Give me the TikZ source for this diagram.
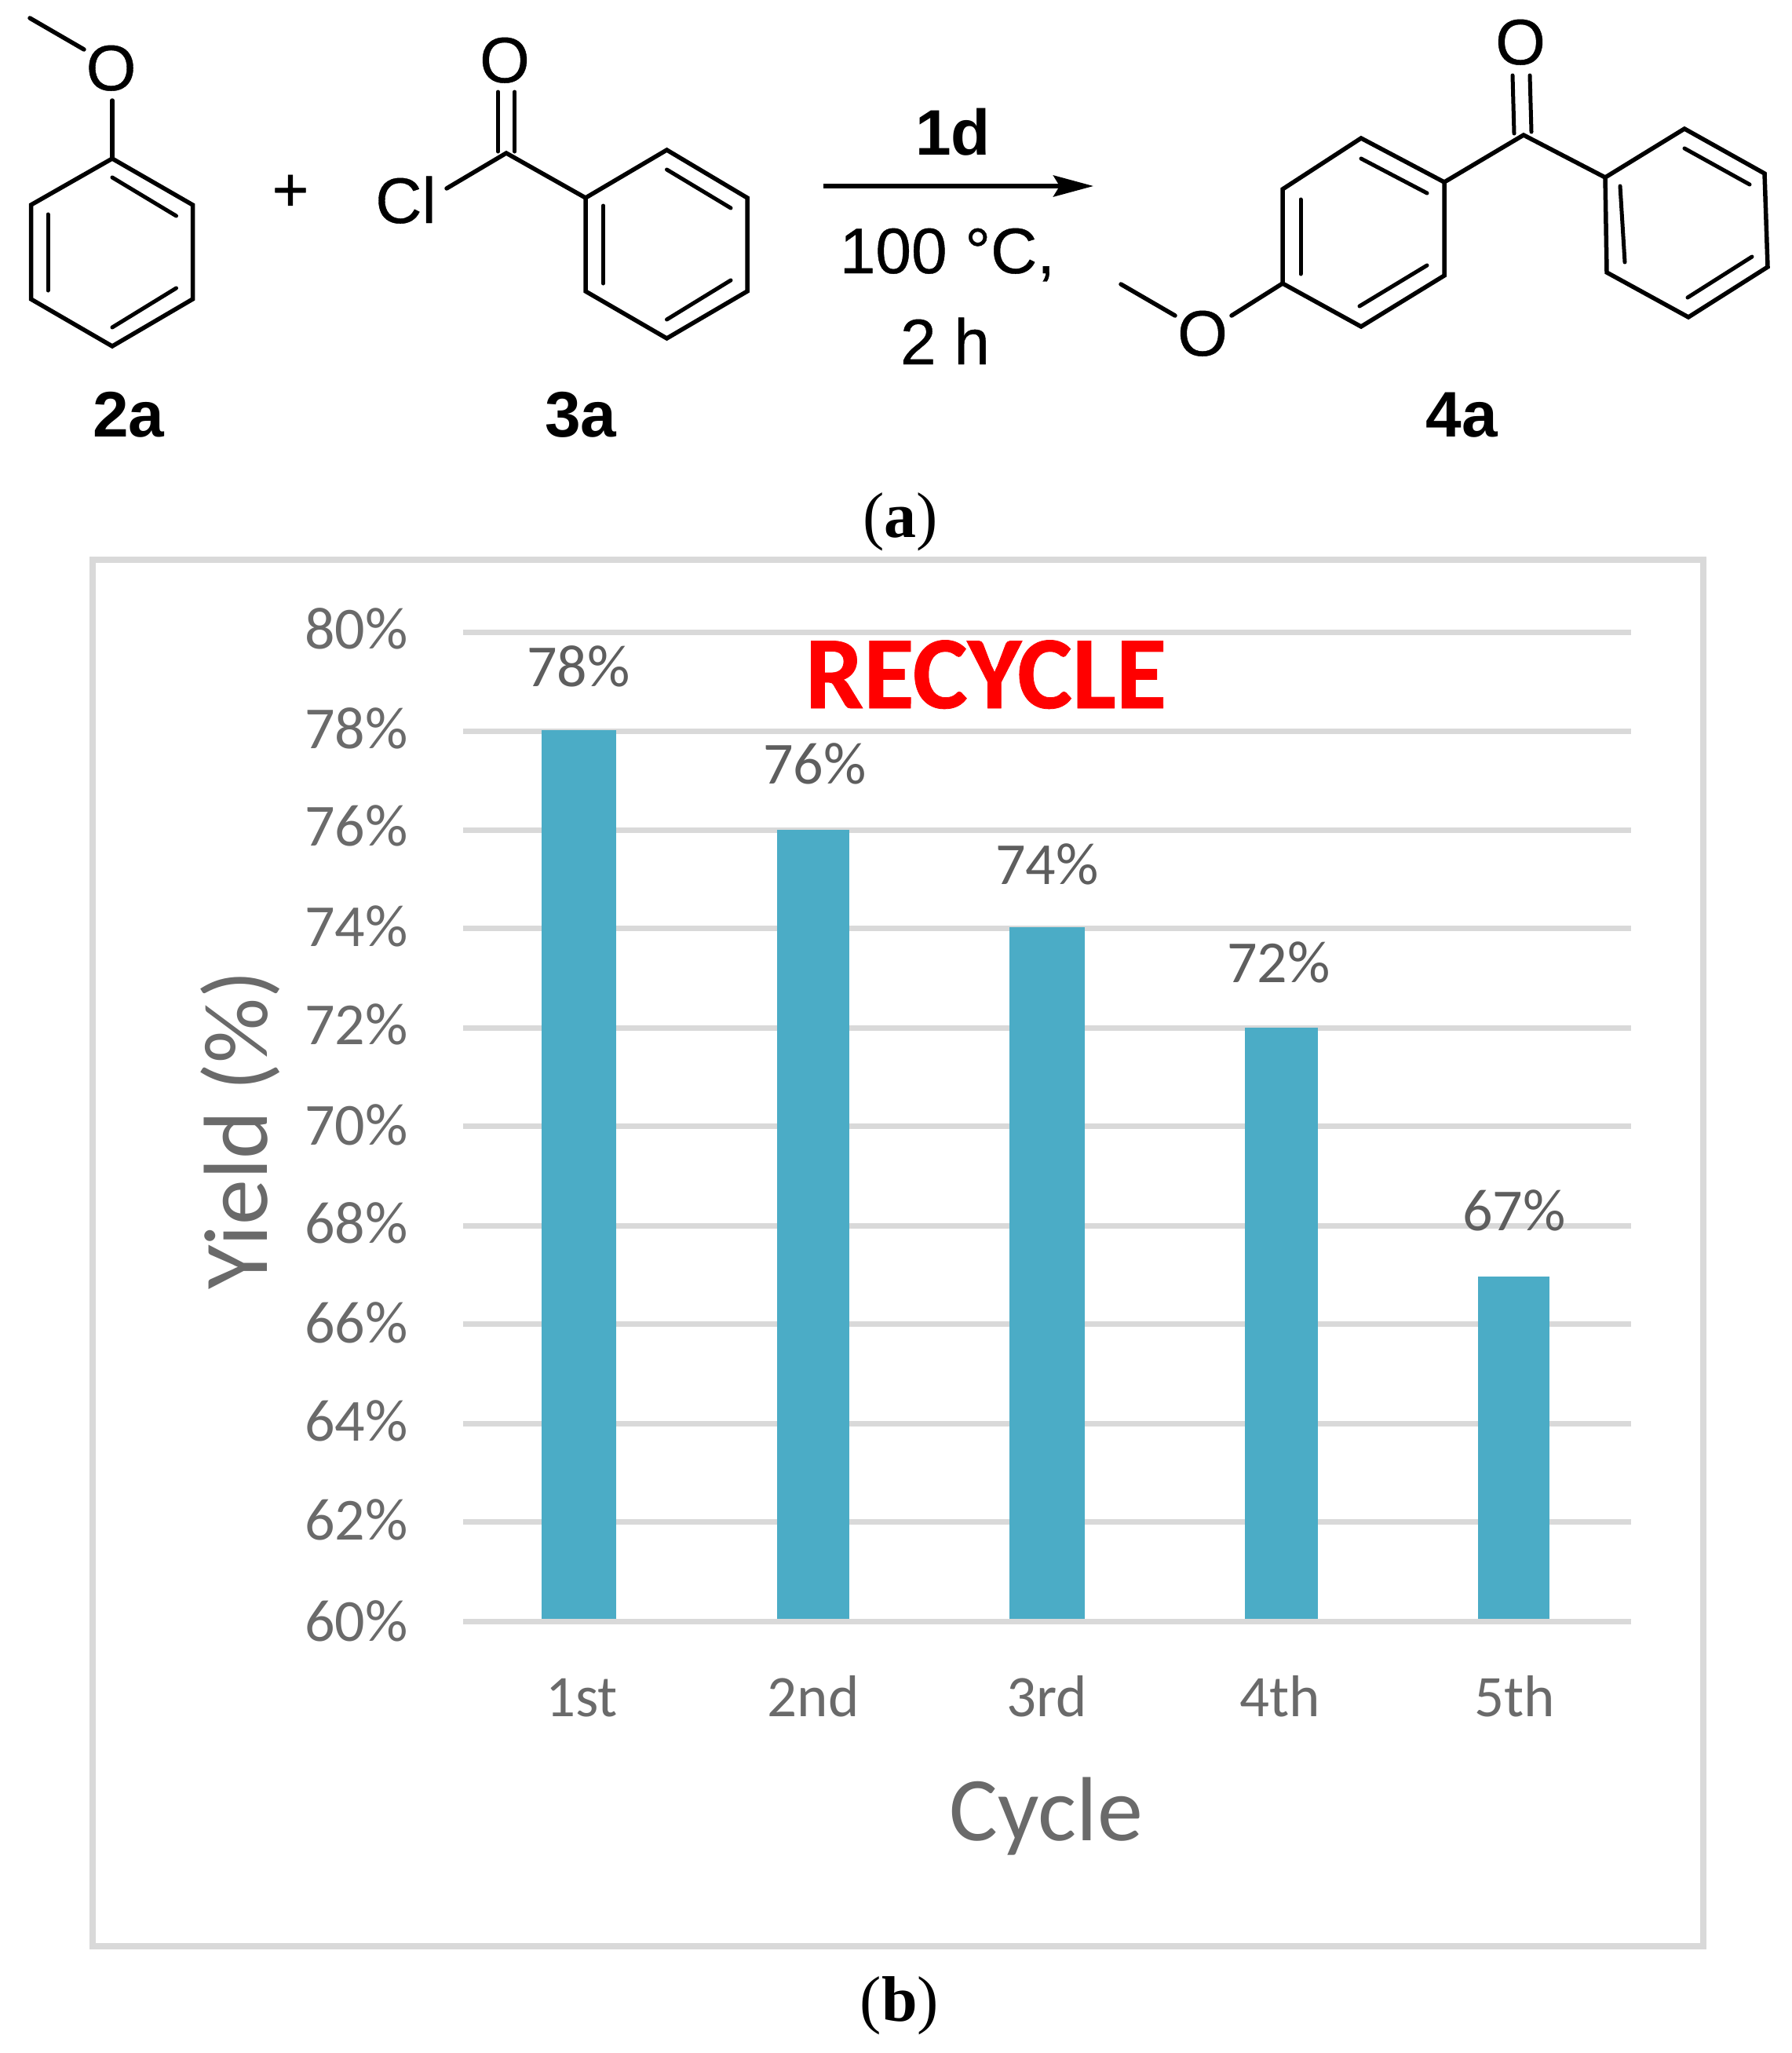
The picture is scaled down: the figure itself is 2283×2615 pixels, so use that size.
\documentclass[tikz,border=0pt]{standalone}
\usepackage{fontspec}
\setmainfont{Liberation Sans}
\newfontfamily\heavysans[FakeBold=0.5]{Liberation Sans}
\newfontfamily\carl{Carlito}
\newfontfamily\heavycarl[FakeBold=0.6]{Carlito Bold}
\newfontfamily\capfont{Liberation Serif}
\usetikzlibrary{arrows.meta}
\definecolor{gridgray}{HTML}{D9D9D9}
\definecolor{barblue}{HTML}{4BACC6}
\definecolor{axisgray}{HTML}{6A6A6A}
\definecolor{labgray}{HTML}{5E5E5E}
\tikzset{
  bond/.style={line width=5.5pt,black,line cap=round,line join=miter},
  inner bond/.style={line width=5pt,black,line cap=round},
  atom/.style={inner sep=0pt,anchor=base,font=\fontsize{82}{82}\selectfont\heavysans},
  cpd/.style={inner sep=0pt,anchor=base,font=\fontsize{82}{82}\selectfont\bfseries},
  cond/.style={inner sep=0pt,anchor=base,font=\fontsize{82}{82}\selectfont\heavysans},
  subcaption/.style={inner sep=0pt,anchor=base,font=\fontsize{82}{82}\selectfont\capfont},
  gridline/.style={line width=7pt,gridgray},
  framebox/.style={line width=8pt,gridgray},
  barshape/.style={fill=barblue},
  ticklab/.style={inner sep=0pt,anchor=base east,text=axisgray,font=\fontsize{76}{76}\selectfont\carl},
  catlab/.style={inner sep=0pt,anchor=base,text=axisgray,font=\fontsize{75}{75}\selectfont\carl},
  datalab/.style={inner sep=0pt,anchor=base,text=labgray,font=\fontsize{76}{76}\selectfont\carl},
  axistitle/.style={inner sep=0pt,anchor=base,text=axisgray,font=\fontsize{116}{116}\selectfont\carl},
}
\begin{document}
\begin{tikzpicture}[x=1pt,y=-1pt]
\useasboundingbox (0,0) rectangle (2283,2615);
\fill[white] (0,0) rectangle (2283,2615);

% ---------- 2a
\node[atom] (oa) at (141.6,115) {O};
\coordinate (a1) at (143,202);
\coordinate (a2) at (245.5,261);
\coordinate (a3) at (245.5,381);
\coordinate (a4) at (143,441);
\coordinate (a5) at (39.5,381);
\coordinate (a6) at (39.5,261);
\coordinate (ome) at (38,23);
\coordinate (oae) at (107,63);
\coordinate (oab) at (143,128);
\draw[bond] (a1) -- (a2) -- (a3) -- (a4) -- (a5) -- (a6) -- cycle;
\draw[bond] (oab) -- (a1);
\draw[bond] (ome) -- (oae);
\draw[inner bond] (143,226) -- (224.5,275);
\draw[inner bond] (224.5,367) -- (143,417);
\draw[inner bond] (61,273) -- (61,370);
\node[cpd] (l2a) at (164,556) {2a};

\node[atom,font=\fontsize{80}{80}\selectfont\heavysans] (plus) at (370,269) {+};

% ---------- 3a
\node[atom] (cl) at (517,284) {Cl};
\node[atom] (ob) at (643,105) {O};
\coordinate (cb) at (645,195);
\coordinate (cle) at (569,240);
\coordinate (b1) at (849.5,191);
\coordinate (b2) at (952,252);
\coordinate (b3) at (952,371);
\coordinate (b4) at (849.5,431);
\coordinate (b5) at (746,371);
\coordinate (b6) at (746,252);
\draw[bond] (b1) -- (b2) -- (b3) -- (b4) -- (b5) -- (b6) -- cycle;
\draw[bond] (cle) -- (cb) -- (b6);
\draw[inner bond] (634.5,117) -- (634.5,193);
\draw[inner bond] (655.6,117) -- (655.6,193);
\draw[inner bond] (849.5,216) -- (931,265);
\draw[inner bond] (931,357) -- (849.5,407);
\draw[inner bond] (768.5,262) -- (768.5,361);
\node[cpd] (l3a) at (740,556) {3a};

% ---------- arrow
\node[cpd] (cat) at (1214,197) {1d};
\coordinate (arrs) at (1049,237);
\coordinate (arre) at (1393,237);
\draw[line width=5.5pt,-{Stealth[length=51pt,width=27pt,inset=8pt]}] (arrs) -- (arre);
\node[cond] (temp) at (1207,348) {100 °C,};
\node[cond] (time) at (1204,464) {2 h};

% ---------- 4a
\node[atom] (oc) at (1532,453) {O};
\node[atom] (od) at (1937,82) {O};
\coordinate (c1) at (1734,176);
\coordinate (c2) at (1840,232);
\coordinate (c3) at (1840,351);
\coordinate (c4) at (1734,416);
\coordinate (c5) at (1634,361);
\coordinate (c6) at (1634,241);
\coordinate (d1) at (2146,164);
\coordinate (d2) at (2248,221);
\coordinate (d3) at (2252,340);
\coordinate (d4) at (2151,404);
\coordinate (d5) at (2047,347);
\coordinate (d6) at (2045,226);
\coordinate (cc) at (1941,172);
\coordinate (oce) at (1569,402);
\coordinate (cme1) at (1428,362);
\coordinate (cme2) at (1497,402);
\draw[bond] (c1) -- (c2) -- (c3) -- (c4) -- (c5) -- (c6) -- cycle;
\draw[bond] (d1) -- (d2) -- (d3) -- (d4) -- (d5) -- (d6) -- cycle;
\draw[bond] (c2) -- (cc) -- (d6);
\draw[bond] (oce) -- (c5);
\draw[bond] (cme1) -- (cme2);
\draw[inner bond] (1927,96) -- (1929,170);
\draw[inner bond] (1949,96) -- (1951,168);
\draw[inner bond] (1734,202) -- (1818,246);
\draw[inner bond] (1818,338) -- (1732,390);
\draw[inner bond] (1657,254) -- (1657,349);
\draw[inner bond] (2146,189) -- (2229,235);
\draw[inner bond] (2232,327) -- (2150,379);
\draw[inner bond] (2064,237) -- (2070,334);
\node[cpd] (l4a) at (1862,556) {4a};

\node[subcaption] (capa) at (1147,684) {(\textbf{a})};

% ---------- chart
\draw[framebox] (117.5,713) rectangle (2170,2479);
\foreach \yy in {805,931,1057,1182,1309,1434,1561,1686,1813,1938,2065}
  \draw[gridline] (590,\yy) -- (2078,\yy);

\fill[barshape] (690,929.5) rectangle (785,2062);
\fill[barshape] (990,1057) rectangle (1082,2062);
\fill[barshape] (1286,1181) rectangle (1382,2062);
\fill[barshape] (1586,1309) rectangle (1679,2062);
\fill[barshape] (1883,1626) rectangle (1974,2062);

\node[ticklab] (t80) at (520,826) {80\%};
\node[ticklab] (t78) at (520,953) {78\%};
\node[ticklab] (t76) at (520,1077) {76\%};
\node[ticklab] (t74) at (520,1205) {74\%};
\node[ticklab] (t72) at (520,1330) {72\%};
\node[ticklab] (t70) at (520,1458) {70\%};
\node[ticklab] (t68) at (520,1583) {68\%};
\node[ticklab] (t66) at (520,1710) {66\%};
\node[ticklab] (t64) at (520,1835) {64\%};
\node[ticklab] (t62) at (520,1961) {62\%};
\node[ticklab] (t60) at (520,2090) {60\%};

\node[datalab] (d78) at (737,874) {78\%};
\node[datalab] (d76) at (1038,998) {76\%};
\node[datalab] (d74) at (1334,1126) {74\%};
\node[datalab] (d72) at (1629,1251) {72\%};
\node[datalab] (d67) at (1929,1567) {67\%};

\node[catlab] (x1) at (741,2186) {1st};
\node[catlab] (x2) at (1036,2186) {2nd};
\node[catlab] (x3) at (1334,2186) {3rd};
\node[catlab] (x4) at (1631,2186) {4th};
\node[catlab] (x5) at (1930,2186) {5th};

\node[axistitle] (xt) at (1333,2344) {Cycle};
\node[axistitle,rotate=90] (yt) at (340,1439) {Yield (\%)};

\node[inner sep=0pt,anchor=base,text=red,font=\fontsize{132}{132}\selectfont\heavycarl] (rec) at (1256,902) {RECYCLE};

\node[subcaption] (capb) at (1146,2574) {(\textbf{b})};
\end{tikzpicture}
\end{document}
